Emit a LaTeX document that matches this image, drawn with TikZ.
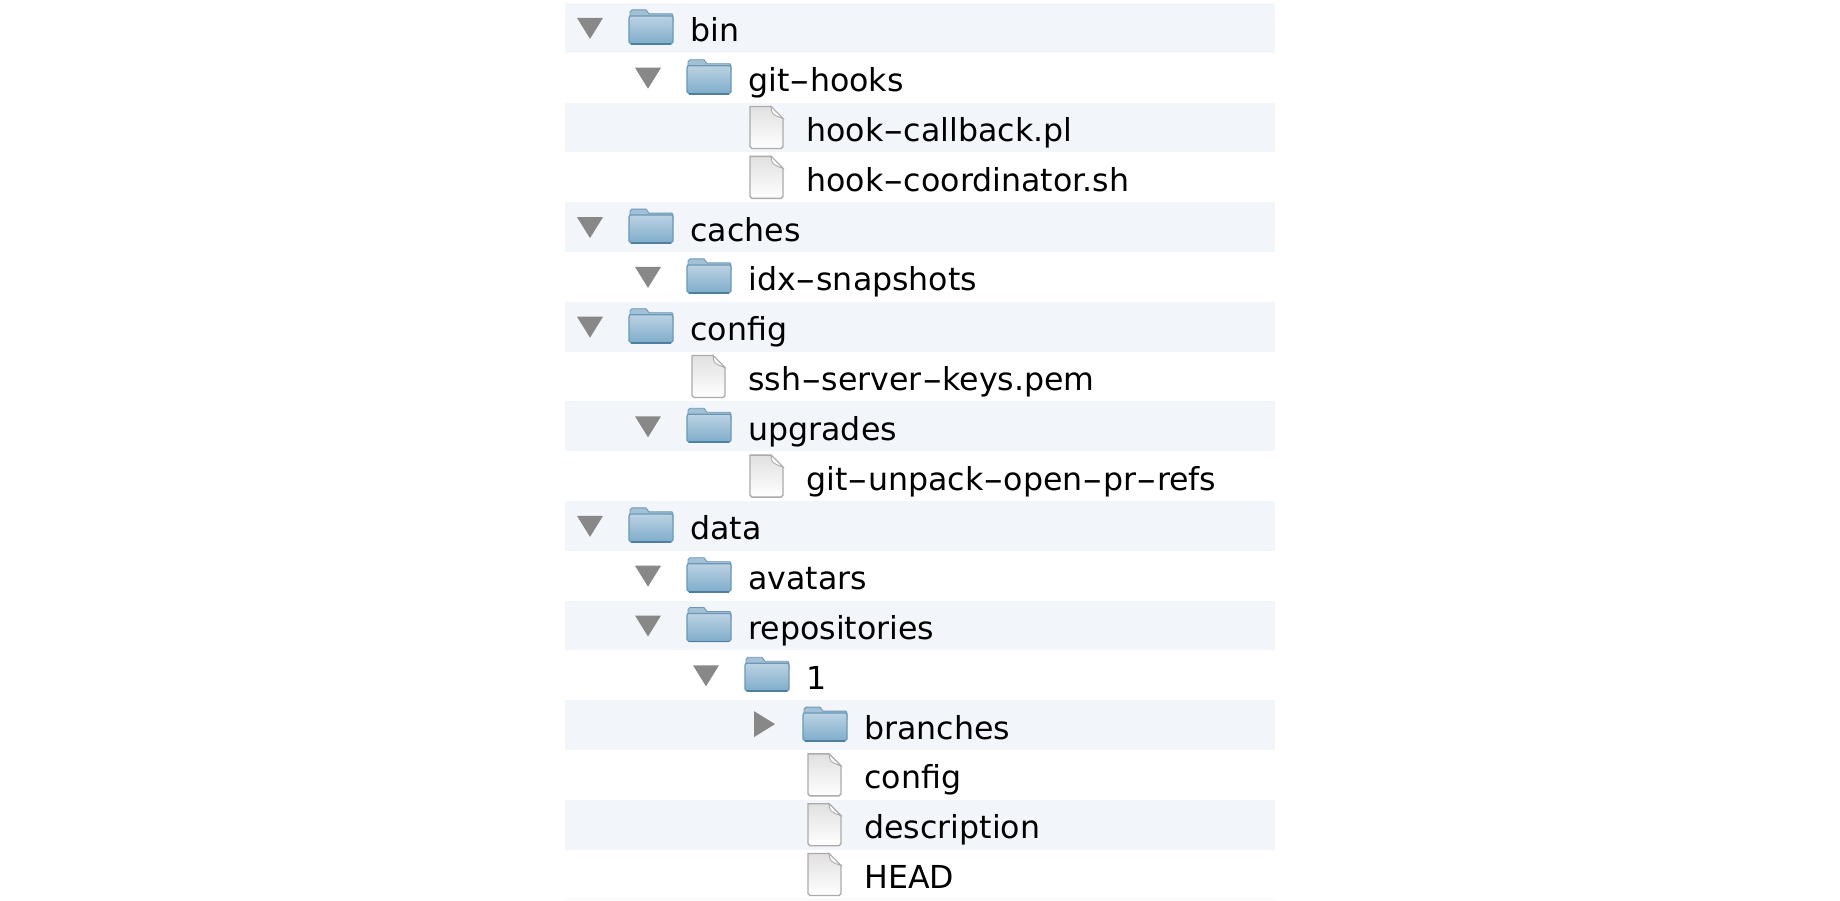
\documentclass[tikz,border=0pt]{standalone}
\usepackage{fontspec}
\setmainfont{DejaVu Sans}
\definecolor{stripe}{HTML}{F2F5FA}
\definecolor{arrowgray}{HTML}{888888}
\definecolor{folderedge}{HTML}{6C98B5}
\definecolor{folderdark}{HTML}{4F7F9E}
\definecolor{foldertab}{HTML}{A3C1D6}
\definecolor{foldertop}{HTML}{BBD2E3}
\definecolor{folderlow}{HTML}{7FADCB}
\definecolor{fileedge}{HTML}{ABABAB}
\newcommand{\hy}{\scalebox{1.8}[1]{-}}
\tikzset{
	rowtext/.style={anchor=base west, inner sep=0pt, text=black, font=\fontsize{18}{22}\selectfont},
	rowband/.style={fill=stripe, draw=none},
	pics/folder/.style={code={
		\draw[folderedge, line width=0.5pt, fill=foldertab] (1,-6) -- (1,-16) -- (3,-18) -- (17,-18) -- (20,-14) -- (43,-14) -- (44,-12) -- (44,-6) -- cycle;
		\draw[folderedge, line width=0.7pt, top color=foldertop, bottom color=folderlow] (0,-10) -- (1,-12) -- (43,-12) -- (44,-10) -- (44,14) -- (42,16) -- (2,16) -- (0,14) -- cycle;
		\draw[folderdark, line width=1pt] (2,16) -- (42,16);
	}},
	pics/filesheet/.style={code={
		\draw[fileedge, line width=0.8pt, top color=black!12, bottom color=white] (0,-21) -- (21,-21) -- (33,-9) -- (33,19) -- (31,21) -- (2,21) -- (0,19) -- cycle;
		\draw[fileedge, line width=0.5pt, fill=white] (21,-21) .. controls (22,-13) .. (33,-9) -- cycle;
	}},
	pics/opentri/.style={code={
		\fill[arrowgray] (-13,-10) -- (13,-10) -- (0,11) -- cycle;
	}},
	pics/shuttri/.style={code={
		\fill[arrowgray] (-11,-14) -- (10,-1) -- (-11,12) -- cycle;
	}},
}
\begin{document}
\begin{tikzpicture}[x=0.02cm, y=-0.02cm]
	\def\rowh{49.8}
	\def\rowy{3}
	\useasboundingbox (0,0) rectangle (1840,900);
	% stripes
	\foreach \rown in {0,2,...,16} {
		\fill[rowband] (565,{\rowy+\rowh*\rown}) rectangle (1275,{\rowy+\rowh*(\rown+1)});
	}
	\fill[rowband] (565,{\rowy+\rowh*18}) rectangle (1275,900);
	% open folders
	\foreach \rown/\lev/\nm/\txt in {0/0/bin/bin, 1/1/githooks/git\hy hooks, 4/0/caches/caches, 5/1/idxsnap/idx\hy snapshots, 6/0/configdir/config, 8/1/upgrades/upgrades, 10/0/data/data, 11/1/avatars/avatars, 12/1/repos/repositories, 13/2/repone/1} {
		\pic at ({590+58*\lev},{\rowy+\rowh*(\rown+0.5)}) {opentri};
		\pic at ({629+58*\lev},{\rowy+\rowh*(\rown+0.5)}) {folder};
		\node[rowtext] (\nm) at ({690+58*\lev},{\rowy+\rowh*(\rown+0.5)+14}) {\txt};
	}
	% closed folder
	\pic at (765,{\rowy+\rowh*14.5}) {shuttri};
	\pic at (803,{\rowy+\rowh*14.5}) {folder};
	\node[rowtext] (branches) at (864,{\rowy+\rowh*14.5+14}) {branches};
	% files
	\foreach \rown/\lev/\nm/\txt in {2/2/hookcallback/hook\hy callback.pl, 3/2/hookcoord/hook\hy coordinator.sh, 7/1/sshkeys/ssh\hy server\hy keys.pem, 9/2/unpack/git\hy unpack\hy open\hy pr\hy refs, 15/3/configfile/config, 16/3/description/description, 17/3/headfile/HEAD} {
		\pic at ({692+58*(\lev-1)},{\rowy+\rowh*(\rown+0.5)}) {filesheet};
		\node[rowtext] (\nm) at ({690+58*\lev},{\rowy+\rowh*(\rown+0.5)+14}) {\txt};
	}
\end{tikzpicture}
\end{document}
